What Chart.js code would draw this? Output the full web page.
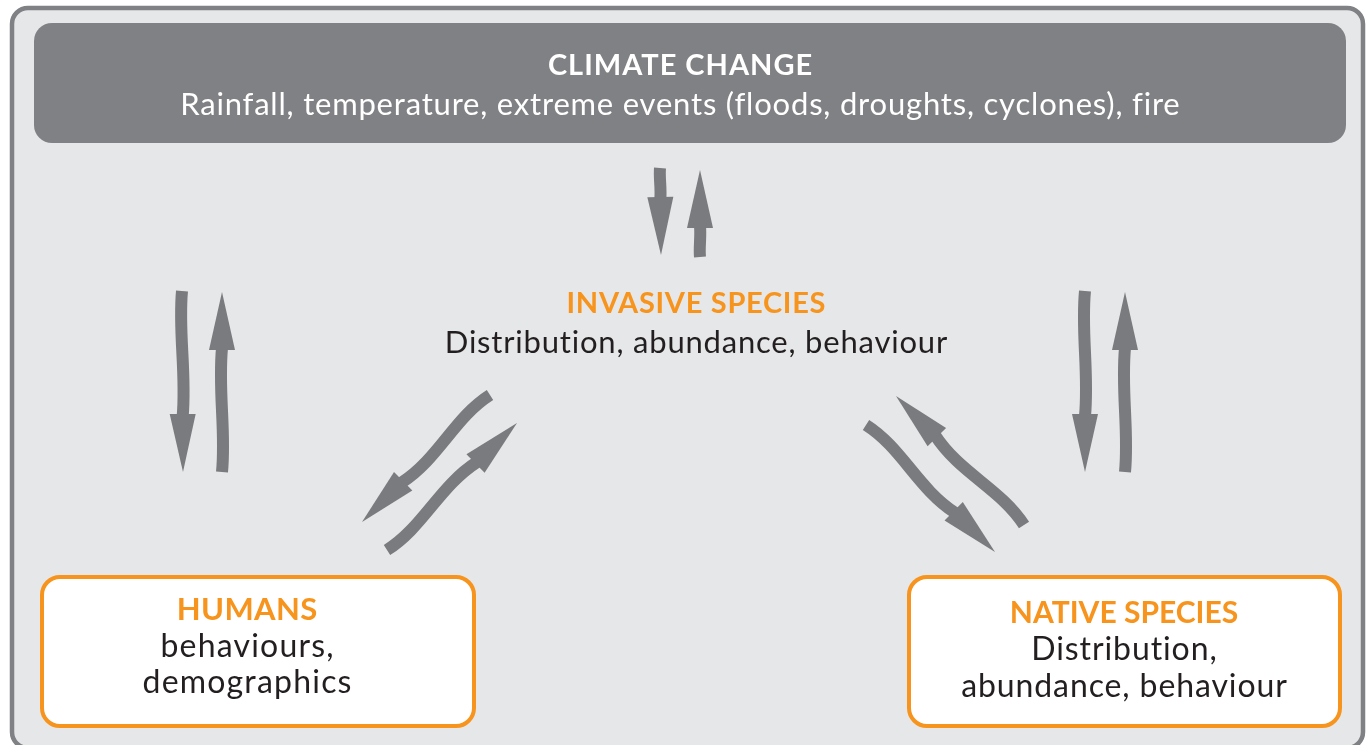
<!DOCTYPE html>
<html>
<head>
<meta charset="utf-8">
<script src="https://cdn.jsdelivr.net/npm/chart.js@4"></script>
<style>
html,body{margin:0;padding:0;background:#fff}
#wrap{width:1368px;height:745px}
</style>
</head>
<body>
<div id="wrap"><canvas id="chart" width="1368" height="745"></canvas></div>
<script>
// diagram content
let nodeNames=["CLIMATE CHANGE","INVASIVE SPECIES","HUMANS","NATIVE SPECIES"]
let nodeLines=[
["Rainfall, temperature, extreme events (floods, droughts, cyclones), fire"],
["Distribution, abundance, behaviour"],
["behaviours,","demographics"],
["Distribution,","abundance, behaviour"]
]
// each link = [from, to] (indexes into nodeNames), two per pair of nodes
let links=[[0,1],[1,0],[0,2],[2,0],[0,3],[3,0],[1,2],[2,1],[3,1],[1,3]]

// layout (diagram units = pixels of a 1368x745 sheet)
let frame={x0:12,y0:8,x1:1363,y1:748,r:16}
let boxes=[
{x0:34,y0:23,x1:1346,y1:143,r:18,fill:"#808184",stroke:null,title:"#ffffff",text:"#ffffff",cx:680,ty:75,ly:[115],ts:29,tls:1,ls:31,lls:0.8},
{x0:0,y0:0,x1:0,y1:0,fill:null,stroke:null,title:"#f7941d",text:"#231f20",cx:696,ty:313,ly:[353],ts:29,tls:0.7,ls:31,lls:0.8},
{x0:42,y0:577,x1:474,y1:726,r:18,fill:"#ffffff",stroke:"#f7941d",title:"#f7941d",text:"#231f20",cx:247,ty:620,ly:[657,693],ts:31,tls:0.4,ls:32,lls:1.2},
{x0:909,y0:577,x1:1340,y1:726,r:18,fill:"#ffffff",stroke:"#f7941d",title:"#f7941d",text:"#231f20",cx:1124,ty:623,ly:[660,697],ts:30,tls:0,ls:32,lls:0.9}
]
// arrow geometry per link: start, tip, wave amount
let arrowPath=[
{s:[660,168],t:[661,255],w:1},
{s:[700,257],t:[700,170],w:-1},
{s:[182,291],t:[183,472],w:4},
{s:[222,472],t:[222,292],w:4},
{s:[1085,291],t:[1085,472],w:4},
{s:[1125,472],t:[1125,292],w:4},
{s:[490,395],t:[362,522],w:9},
{s:[387,550],t:[517,423],w:9},
{s:[1024,525],t:[896,396],w:9},
{s:[866,425],t:[995,552],w:-9}
]
let arrowColor="#7a7b7e"

function rr(ctx,x0,y0,x1,y1,r){
ctx.beginPath()
ctx.moveTo(x0+r,y0)
ctx.arcTo(x1,y0,x1,y1,r)
ctx.arcTo(x1,y1,x0,y1,r)
ctx.arcTo(x0,y1,x0,y0,r)
ctx.arcTo(x0,y0,x1,y0,r)
ctx.closePath()
}

let diagram={
id:"diagram",
afterDatasetsDraw(chart){
let ctx=chart.ctx
let X=v=>chart.scales.x.getPixelForValue(v)
let Y=v=>chart.scales.y.getPixelForValue(v)
ctx.save()

// outer frame
rr(ctx,X(frame.x0),Y(frame.y0),X(frame.x1),Y(frame.y1),frame.r)
ctx.fillStyle="#e6e7e8"
ctx.fill()
ctx.lineWidth=4.5
ctx.strokeStyle="#808184"
ctx.stroke()

// arrows
links.forEach((l,i)=>{
let a=arrowPath[i]
let sx=X(a.s[0]),sy=Y(a.s[1]),tx=X(a.t[0]),ty=Y(a.t[1])
let dx=tx-sx,dy=ty-sy,len=Math.hypot(dx,dy)
let ux=dx/len,uy=dy/len,px=-uy,py=ux
let head=58,hw=13
let bx=tx-ux*head,by=ty-uy*head
let bl=len-head
ctx.beginPath()
ctx.moveTo(sx,sy)
ctx.bezierCurveTo(
sx+ux*bl/3+px*a.w,sy+uy*bl/3+py*a.w,
sx+ux*bl*2/3-px*a.w,sy+uy*bl*2/3-py*a.w,
bx+ux*2,by+uy*2)
ctx.lineWidth=12
ctx.lineCap="butt"
ctx.strokeStyle=arrowColor
ctx.stroke()
ctx.beginPath()
ctx.moveTo(tx,ty)
ctx.lineTo(bx+px*hw,by+py*hw)
ctx.lineTo(bx-px*hw,by-py*hw)
ctx.closePath()
ctx.fillStyle=arrowColor
ctx.fill()
})

// boxes and text
nodeNames.forEach((name,i)=>{
let b=boxes[i]
if(b.fill){
rr(ctx,X(b.x0),Y(b.y0),X(b.x1),Y(b.y1),b.r)
ctx.fillStyle=b.fill
ctx.fill()
if(b.stroke){ctx.lineWidth=4;ctx.strokeStyle=b.stroke;ctx.stroke()}
}
ctx.textAlign="center"
ctx.textBaseline="alphabetic"
ctx.fillStyle=b.title
ctx.font="bold "+b.ts+"px Lato"
ctx.letterSpacing=b.tls+"px"
ctx.fillText(name,X(b.cx)+b.tls/2,Y(b.ty))
ctx.fillStyle=b.text
ctx.font=b.ls+"px Lato"
ctx.letterSpacing=b.lls+"px"
nodeLines[i].forEach((t,j)=>ctx.fillText(t,X(b.cx)+b.lls/2,Y(b.ly[j])))
})
ctx.letterSpacing="0px"
ctx.restore()
}
}

let chart=new Chart(document.getElementById("chart"),{
type:"scatter",
data:{datasets:[{data:[]}]},
options:{
responsive:false,
animation:false,
layout:{padding:0},
plugins:{legend:{display:false},tooltip:{enabled:false}},
scales:{
x:{type:"linear",min:0,max:1368,display:false},
y:{type:"linear",min:0,max:745,reverse:true,display:false}
}
},
plugins:[diagram]
})
</script>
</body>
</html>
